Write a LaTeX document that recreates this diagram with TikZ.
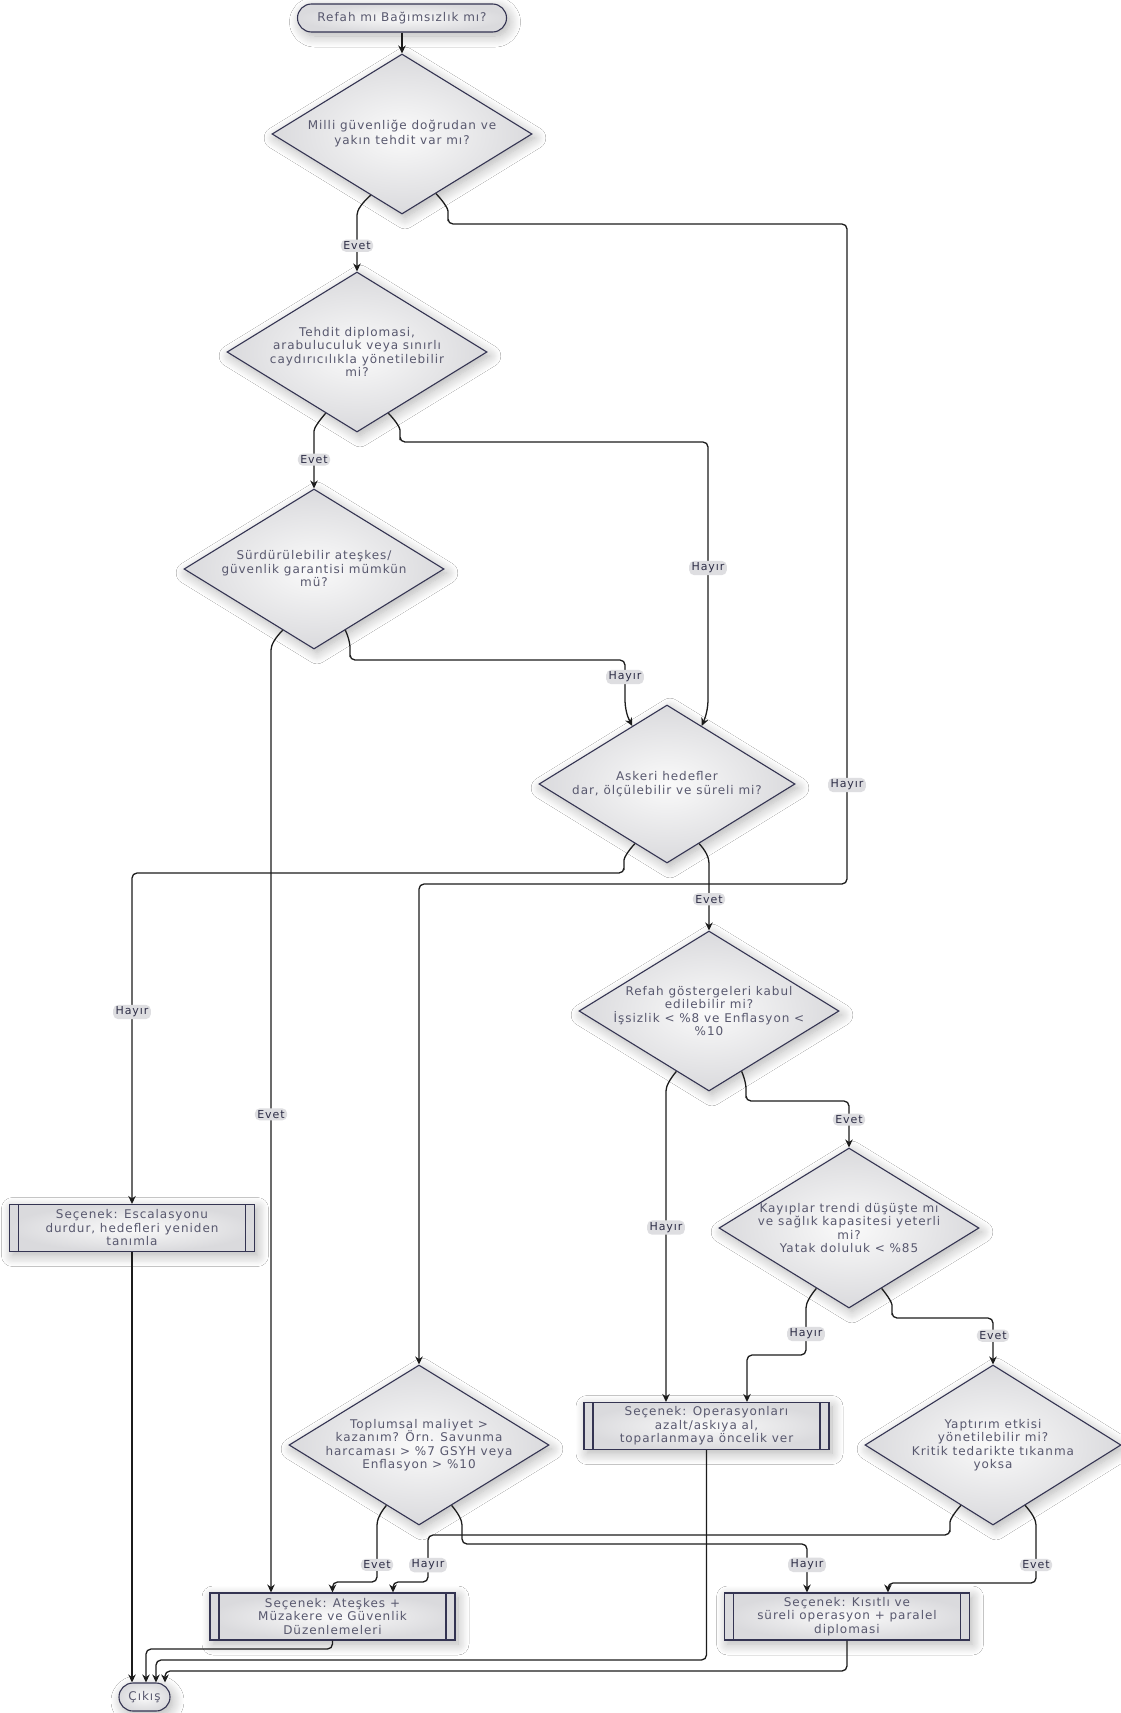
\documentclass[tikz,border=0pt]{standalone}
\usepackage{fontspec}
\setmainfont{DejaVu Sans}[LetterSpace=8]
\usetikzlibrary{shapes.geometric,shapes.misc,arrows.meta,shadows.blur,calc}
\definecolor{nodestroke}{RGB}{52,52,82}
\definecolor{nodetext}{RGB}{88,88,110}
\definecolor{edgecol}{RGB}{28,28,28}
\definecolor{lblfill}{RGB}{222,222,225}
\definecolor{lbltext}{RGB}{45,45,70}
\definecolor{shin}{RGB}{250,250,250}
\definecolor{shout}{RGB}{218,218,221}
\newcommand{\nfont}{\fontsize{12}{13.5}\selectfont}
\newcommand{\lfont}{\fontsize{11}{12.5}\selectfont}
\begin{document}
\begin{tikzpicture}[x=1pt,y=-1pt,
  shad/.style={blur shadow={shadow xshift=3pt,shadow yshift=-4pt,shadow blur radius=11pt,shadow blur steps=12,shadow opacity=30}},
  dia/.style={diamond,draw=nodestroke,line width=1.1pt,minimum width=260pt,minimum height=160pt,inner sep=0pt,
    inner color=shin,outer color=shout,shad},
  dtext/.style={align=center,text=nodetext,font=\nfont,inner sep=0pt},
  subbox/.style={rectangle,draw=nodestroke,line width=1.1pt,minimum width=245pt,minimum height=47pt,inner sep=1pt,
    align=center,text=nodetext,font=\nfont,inner color=shin,outer color=shout,shad,
    path picture={\draw[nodestroke,line width=1.1pt]
      ([xshift=9pt]path picture bounding box.north west) -- ([xshift=9pt]path picture bounding box.south west)
      ([xshift=-9pt]path picture bounding box.north east) -- ([xshift=-9pt]path picture bounding box.south east);}},
  termbox/.style={rounded rectangle,draw=nodestroke,line width=1.1pt,minimum height=28pt,inner sep=2pt,
    text=nodetext,font=\nfont,inner color=shin,outer color=shout,shad},
  conn/.style={draw=edgecol,line width=1.3pt,rounded corners=5pt,-{Stealth[length=8pt,width=7.5pt]}},
  lbl/.style={fill=lblfill,text=lbltext,font=\lfont,inner xsep=2.5pt,inner ysep=2pt}
]
\fill[white] (0,0) rectangle (1121,1713);
\useasboundingbox (0,0) rectangle (1121,1713);

% terminals
\node[termbox,minimum width=213pt] (start) at (402,18) {Refah mı Bağımsızlık mı?};
\node[termbox,minimum width=55pt] (cikis) at (144.5,1697) {Çıkış};

% decisions
\node[dia] (d1) at (402,134) {};
\node[dtext,font=\fontsize{12}{15}\selectfont] (d1t) at (d1) {Milli güvenliğe doğrudan ve\\yakın tehdit var mı?};
\node[dia] (d2) at (357,352) {};
\node[dtext] (d2t) at (d2) {Tehdit diplomasi,\\arabuluculuk veya sınırlı\\caydırıcılıkla yönetilebilir\\mi?};
\node[dia] (d3) at (314,569) {};
\node[dtext] (d3t) at (d3) {Sürdürülebilir ateşkes/\\güvenlik garantisi mümkün\\mü?};
\node[dia,minimum width=256pt,minimum height=158pt] (d4) at (667,784) {};
\node[dtext] (d4t) at (d4) {Askeri hedefler\\dar, ölçülebilir ve süreli mi?};
\node[dia] (d5) at (709,1011) {};
\node[dtext] (d5t) at (d5) {Refah göstergeleri kabul\\edilebilir mi?\\İşsizlik < \%8 ve Enflasyon <\\\%10};
\node[dia] (d6) at (849,1228) {};
\node[dtext] (d6t) at (d6) {Kayıplar trendi düşüşte mı\\ve sağlık kapasitesi yeterli\\mi?\\Yatak doluluk < \%85};
\node[dia] (d7) at (419,1445) {};
\node[dtext] (d7t) at (d7) {Toplumsal maliyet >\\kazanım? Örn. Savunma\\harcaması > \%7 GSYH veya\\Enflasyon > \%10};
\node[dia,minimum width=256pt] (d8) at (993,1445) {};
\node[dtext] (d8t) at (d8) {Yaptırım etkisi\\yönetilebilir mi?\\Kritik tedarikte tıkanma\\yoksa};

% options
\node[subbox] (esc) at (132,1228) {Seçenek: Escalasyonu\\durdur, hedefleri yeniden\\tanımla};
\node[subbox] (ops) at (706.5,1426) {Seçenek: Operasyonları\\azalt/askıya al,\\toparlanmaya öncelik ver};
\node[subbox] (ates) at (332.5,1616.5) {Seçenek: Ateşkes +\\Müzakere ve Güvenlik\\Düzenlemeleri};
\node[subbox] (kis) at (847,1616.5) {Seçenek: Kısıtlı ve\\süreli operasyon + paralel\\diplomasi};

% connectors
\draw[conn] (start.south) -- (d1.north);
\draw[conn] ($(d1.south)!0.24!(d1.west)$) .. controls (362,203) and (357,210) .. (357,220)
  -- node[lbl] (l1) {Evet} (d2.north);
\draw[conn] ($(d1.south)!0.26!(d1.east)$) .. controls (444,202) and (448,209) .. (448,216)
  -- (448,224) -- (847,224) -- node[lbl,pos=0.85] (l2) {Hayır} (847,884) -- (419,884) -- (d7.north);
\draw[conn] ($(d2.south)!0.24!(d2.west)$) .. controls (319,421) and (314,428) .. (314,436)
  -- node[lbl,pos=0.45] (l3) {Evet} (d3.north);
\draw[conn] ($(d2.south)!0.24!(d2.east)$) .. controls (396,421) and (400,428) .. (400,435)
  -- (400,442) -- (708,442) -- node[lbl] (l4) {Hayır} (708,694)
  .. controls (708,708) and (706,716) .. ($(d4.north)!0.27!(d4.east)$);
\draw[conn] ($(d3.south)!0.24!(d3.west)$) .. controls (275,638) and (271,645) .. (271,655)
  -- node[lbl,pos=0.49] (l5) {Evet} ([xshift=-61.5pt]ates.north);
\draw[conn] ($(d3.south)!0.24!(d3.east)$) .. controls (349,638) and (350,645) .. (350,652)
  -- (350,660) -- (625,660) -- node[lbl] (l6) {Hayır} (625,694)
  .. controls (625,708) and (627,716) .. ($(d4.north)!0.27!(d4.west)$);
\draw[conn] ($(d4.south)!0.25!(d4.west)$) .. controls (628,851) and (624,858) .. (624,865)
  -- (624,873) -- (132,873) -- node[lbl,pos=0.42] (l7) {Hayır} (esc.north);
\draw[conn] ($(d4.south)!0.25!(d4.east)$) .. controls (706,851) and (709,858) .. (709,868)
  -- node[lbl] (l8) {Evet} (d5.north);
\draw[conn] ($(d5.south)!0.25!(d5.west)$) .. controls (670,1079) and (666,1086) .. (666,1096)
  -- node[lbl,pos=0.43] (l9) {Hayır} ([xshift=-40.5pt]ops.north);
\draw[conn] ($(d5.south)!0.25!(d5.east)$) .. controls (745,1079) and (746,1086) .. (746,1093)
  -- (746,1101) -- (849,1101) -- node[lbl,pos=0.4] (l10) {Evet} (d6.north);
\draw[conn] ($(d6.south)!0.25!(d6.west)$) .. controls (810,1296) and (806,1303) .. (806,1313)
  -- node[lbl] (l11) {Hayır} (806,1355) -- (747,1355) -- ([xshift=40.5pt]ops.north);
\draw[conn] ($(d6.south)!0.25!(d6.east)$) .. controls (888,1296) and (892,1303) .. (892,1310)
  -- (892,1318) -- (993,1318) -- node[lbl,pos=0.38] (l12) {Evet} (d8.north);
\draw[conn] ($(d7.south)!0.25!(d7.west)$) .. controls (380,1513) and (377,1520) .. (377,1530)
  -- node[lbl,pos=0.67] (l13) {Evet} (377,1582) -- (332.5,1582) -- (ates.north);
\draw[conn] ($(d7.south)!0.25!(d7.east)$) .. controls (458,1513) and (462,1520) .. (462,1530)
  -- (462,1544) -- (807,1544) -- node[lbl,pos=0.43] (l14) {Hayır} ([xshift=-40pt]kis.north);
\draw[conn] ($(d8.south)!0.25!(d8.west)$) .. controls (954,1513) and (950,1520) .. (950,1527)
  -- (950,1535) -- (428,1535) -- node[lbl,pos=0.64] (l15) {Hayır} (428,1582) -- (393,1582)
  -- ([xshift=60.5pt]ates.north);
\draw[conn] ($(d8.south)!0.25!(d8.east)$) .. controls (1032,1513) and (1036,1520) .. (1036,1530)
  -- node[lbl,pos=0.66] (l16) {Evet} (1036,1583) -- (888,1583) -- ([xshift=41pt]kis.north);
\draw[conn] (esc.south) -- (esc.south |- cikis.north);
\draw[conn] (ates.south) -- (332.5,1649) -- (146,1649) -- ([xshift=1.5pt]cikis.north);
\draw[conn] (ops.south) -- (706.5,1660) -- (156,1660) -- ([xshift=11.5pt]cikis.north);
\draw[conn] (kis.south) -- (847,1671) -- (165,1671) -- ([xshift=20.5pt]cikis.north);
\end{tikzpicture}
\end{document}
